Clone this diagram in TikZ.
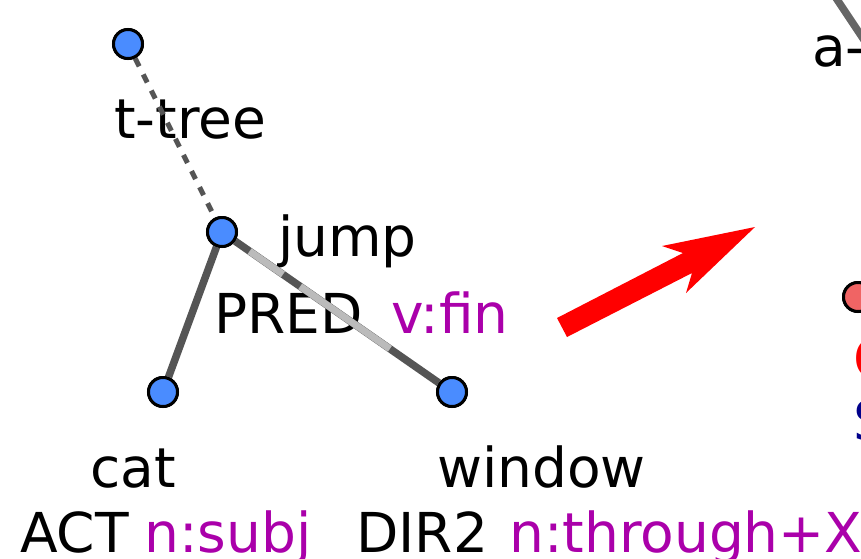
\documentclass[tikz,border=0pt]{standalone}
\usepackage{fontspec}
\setmainfont{DejaVu Sans}
\usetikzlibrary{calc}
\definecolor{tblue}{HTML}{4A8CFF}
\definecolor{edgegray}{HTML}{555555}
\definecolor{lightgray2}{HTML}{BBBBBB}
\definecolor{funcmag}{HTML}{AA00AA}
\definecolor{salmon}{HTML}{F06464}
\definecolor{navy2}{HTML}{00008B}
\begin{document}
\begin{tikzpicture}[x=1pt,y=-1pt,
  tnode/.style={circle, draw=black, line width=3pt, fill=tblue, minimum size=29pt, inner sep=0pt},
  lbl/.style={anchor=base west, inner sep=0pt, font=\fontsize{55}{60}\selectfont},
  fn/.style={lbl, text=funcmag},
  edgeline/.style={draw=edgegray, line width=7.5pt},
  lightline/.style={draw=lightgray2, line width=7pt},
  dashedge/.style={draw=edgegray, line width=5pt, dash pattern=on 9pt off 9pt}]
\useasboundingbox (0,0) rectangle (861,558);
\fill[white] (0,0) rectangle (861,558);
% labels
\node[lbl] (ttree) at (114,138) {t-tree};
\node[lbl] (ljump) at (278,256) {jump};
\node[lbl] (lpred) at (214,333) {PRED};
\node[fn] (lvfin) at (391,333) {v:fin};
\node[lbl] (lcat) at (90,487) {cat};
\node[lbl] (lact) at (20,552) {ACT};
\node[fn] (lsubj) at (144,552) {n:subj};
\node[lbl] (lwin) at (437,487) {window};
\node[lbl] (ldir) at (356,552) {DIR2};
\node[fn] (lthr) at (509,552) {n:through+X};
\node[lbl] (la) at (812,66) {a-};
\node[lbl, text=red] (lred) at (853,378) {C};
\node[lbl, text=navy2] (lblue) at (853,440) {S};
% nodes
\node[tnode] (root) at (128,44) {};
\node[tnode] (jump) at (222,232) {};
\node[tnode] (cat) at (163,392) {};
\node[tnode] (window) at (452,392) {};
\node[tnode, fill=salmon] (anode) at (858,297) {};
\coordinate (a1) at (834,-5);
\coordinate (a2) at (866,43);
% edges
\draw[dashedge] (root) -- (jump);
\draw[edgeline] (jump) -- (cat);
\draw[edgeline] (jump) -- (window);
\draw[lightline] ($(jump)!0.12!(window)$) -- ($(jump)!0.265!(window)$);
\draw[lightline] ($(jump)!0.34!(window)$) -- ($(jump)!0.73!(window)$);
\draw[edgeline, draw=edgegray!90] (a1) -- (a2);
% redraw nodes on top
\node[tnode] at (root) {};
\node[tnode] at (jump) {};
\node[tnode] at (cat) {};
\node[tnode] at (window) {};
\node[tnode, fill=salmon] at (anode) {};
% red arrow
\fill[red] (567,337) -- (557,318) -- (683,253) -- (662,246) -- (755,227) -- (686,293) -- (692,273) -- cycle;
\end{tikzpicture}
\end{document}
